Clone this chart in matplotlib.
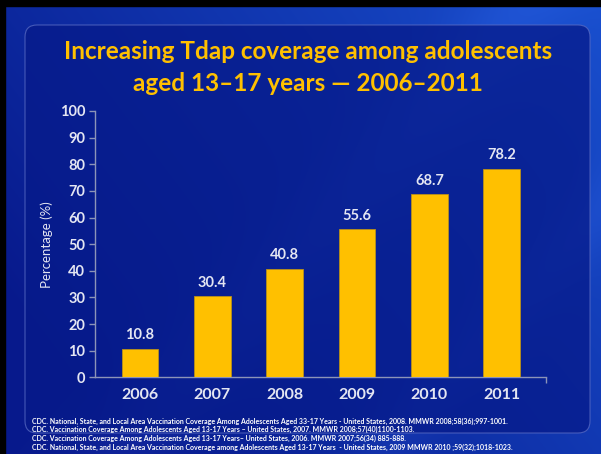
import numpy as np
import matplotlib
matplotlib.use("Agg")
import matplotlib.pyplot as plt
from matplotlib.patches import FancyBboxPatch, Rectangle

years = ["2006", "2007", "2008", "2009", "2010", "2011"]
coverage = [10.8, 30.4, 40.8, 55.6, 68.7, 78.2]
yticks = [0, 10, 20, 30, 40, 50, 60, 70, 80, 90, 100]

title = "Increasing Tdap coverage among adolescents\naged 13\u201317 years \u2014 2006\u20132011"
sources = [
    "CDC. National, State, and Local Area Vaccination Coverage Among Adolescents Aged 33-17 Years - United States, 2008. MMWR 2008;58(36);997-1001.",
    "CDC. Vaccination Coverage Among Adolescents Aged 13-17 Years \u2013 United States, 2007. MMWR 2008;57(40)1100-1103.",
    "CDC. Vaccination Coverage Among Adolescents Aged 13-17 Years\u2013 United States, 2006. MMWR 2007;56(34) 885-888.",
    "CDC. National, State, and Local Area Vaccination Coverage among Adolescents Aged 13-17 Years  - United States, 2009 MMWR 2010 ;59(32);1018-1023.",
]

GOLD = "#FFC000"
TEXT = "#E4E6F2"
AXIS = "#8C94B8"

plt.rcParams["font.family"] = ["Lato", "DejaVu Sans"]

W, H = 601, 454
fig = plt.figure(figsize=(W / 100, H / 100), dpi=100)

# slide background: diagonal blue gradient with soft light streaks
bg = fig.add_axes([0, 0, 1, 1])
bg.set_xlim(0, W)
bg.set_ylim(H, 0)
bg.axis("off")
yy, xx = np.mgrid[0:H, 0:W]
t = np.clip((xx / W) * 0.7 - (yy / H) * 0.4 + 0.25, 0, 1)
dark = np.array([0.03, 0.10, 0.55])
light = np.array([0.10, 0.32, 0.82])
img = dark + (light - dark) * t[..., None]
streak = np.exp(-((xx - 0.9 * (H - yy) - 120) / 60.0) ** 2) * 0.05
streak += np.exp(-((xx - 0.9 * (H - yy) - 380) / 40.0) ** 2) * 0.04
img = np.clip(img + streak[..., None] * np.array([0.6, 0.8, 1.0]), 0, 1)
bg.imshow(img, extent=(0, W, H, 0), aspect="auto", zorder=0)

# dark rounded content panel
panel = FancyBboxPatch((25, 25), 565, 408, boxstyle="round,pad=0,rounding_size=12",
                       facecolor="#061a8a", alpha=0.75, edgecolor="#5a6cc4",
                       linewidth=0.8, zorder=1)
bg.add_patch(panel)

# black frame along top and left edges
bg.add_patch(Rectangle((0, 0), W, 6, color="black", zorder=3))
bg.add_patch(Rectangle((0, 0), 5, H, color="black", zorder=3))

bg.text(308, 67.5, title, color=GOLD, fontsize=17.5, fontweight="bold",
        ha="center", va="center", linespacing=1.45, zorder=4)

for i, s in enumerate(sources):
    bg.text(32, 421 + i * 8.7, s, color="white", fontsize=5.0, fontweight="bold",
            ha="left", va="center", zorder=4)

# bar chart
ax = fig.add_axes([95 / W, 1 - 377.3 / H, 451 / W, (377.3 - 111) / H])
ax.patch.set_alpha(0)
x = np.arange(len(years))
bars = ax.bar(x, coverage, width=0.51, color=GOLD, edgecolor="#B8901A", linewidth=0.6, zorder=3)
for xi, v in zip(x, coverage):
    ax.text(xi, v + 2.5, f"{v:.1f}", color=TEXT, fontsize=10.5, fontweight="bold",
            ha="center", va="bottom")

ax.set_xlim(-0.622, len(years) - 1 + 0.613)
ax.set_ylim(0, 100)
ax.set_yticks(yticks)
ax.set_yticklabels([str(v) for v in yticks], color=TEXT, fontsize=10.5, fontweight="bold")
ax.set_xticks(x)
ax.set_xticklabels(years, color=TEXT, fontsize=11.5, fontweight="bold")
ax.set_xticks([len(years) - 1 + 0.613], minor=True)
ax.tick_params(axis="x", which="major", length=0, pad=8)
ax.tick_params(axis="x", which="minor", length=4, color=AXIS, width=1)
ax.tick_params(axis="y", length=4, color=AXIS, width=1, pad=3)
for side in ("top", "right"):
    ax.spines[side].set_visible(False)
for side in ("left", "bottom"):
    ax.spines[side].set_color(AXIS)
    ax.spines[side].set_linewidth(1)
ax.set_ylabel("Percentage (%)", color=TEXT, fontsize=9.5, labelpad=5)

fig.savefig("out.png", dpi=100)
